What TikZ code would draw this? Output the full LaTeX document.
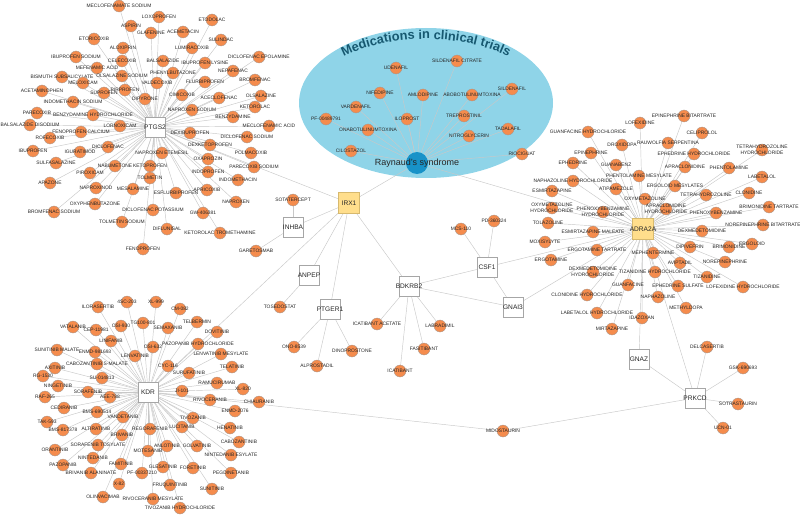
\documentclass[tikz,border=0pt]{standalone}
\usepackage{fontspec}
\setmainfont{Liberation Sans}
\usetikzlibrary{shapes,calc,positioning,decorations.text}
\definecolor{drugorange}{RGB}{245,140,77}
\definecolor{druggray}{RGB}{160,150,145}
\definecolor{hubyellow}{RGB}{255,222,140}
\definecolor{hubborder}{RGB}{215,185,110}
\definecolor{linkgray}{RGB}{200,200,200}
\definecolor{trialblue}{RGB}{143,212,232}
\definecolor{raynblue}{RGB}{24,146,200}
\definecolor{titleteal}{RGB}{22,88,112}
\newcommand{\titlefont}{\fontsize{12.8}{14}\selectfont\bfseries\color{titleteal}}
\pgfdeclarelayer{bg}
\pgfdeclarelayer{links}
\pgfsetlayers{bg,links,main}
\tikzset{lbl/.style={font=\fontsize{4.9}{5.4}\selectfont, text=black!85, align=center, inner sep=0pt}}
\tikzset{drug/.style={circle, draw=druggray, line width=0.3pt, fill=drugorange, minimum size=12pt, inner sep=0pt, label={[lbl]center:#1}}}
\tikzset{tlbl/.style={font=\fontsize{6.6}{7}\selectfont, text=black!85, inner sep=0pt}}
\tikzset{target/.style={rectangle, draw=gray!70, line width=0.4pt, fill=white, minimum size=20pt, inner sep=0pt, label={[tlbl]center:#1}}}
\tikzset{hub/.style={target=#1, fill=hubyellow, draw=hubborder, minimum size=21pt}}
\tikzset{disease/.style={circle, fill=raynblue, minimum size=22pt, inner sep=0pt, label={[font=\fontsize{9}{10}\selectfont, text=black!85]center:#1}}}

\begin{document}
\begin{tikzpicture}[x=1pt, y=-1pt, every edge/.style={draw=linkgray, line width=0.45pt}]
\useasboundingbox (0,0) rectangle (800,516);
\begin{pgfonlayer}{bg}
\fill[trialblue] (426,103) ellipse [x radius=127, y radius=75];
\end{pgfonlayer}
\path[decorate, decoration={text along path, text align=center, text={|\titlefont|Medications in clinical trials}}]
  (318.15,75.95) arc[start angle=205, end angle=335, x radius=119, y radius=64];

\node[disease={Raynaud's syndrome}] (rayn) at (417,163) {};
\node[hub=IRX1] (IRX1) at (349,203) {};
\node[hub=ADRA2A] (ADRA2A) at (643,229) {};
\node[target=PTGS2] (PTGS2) at (155,127) {};
\node[target=KDR] (KDR) at (148,392) {};
\node[target=INHBA] (INHBA) at (293,227) {};
\node[target=ANPEP] (ANPEP) at (309,275) {};
\node[target=PTGER1] (PTGER1) at (330,309) {};
\node[target=BDKRB2] (BDKRB2) at (409,286) {};
\node[target=CSF1] (CSF1) at (487,267) {};
\node[target=GNAI3] (GNAI3) at (513,307) {};
\node[target=GNAZ] (GNAZ) at (639,359) {};
\node[target=PRKCD] (PRKCD) at (695,398) {};

\node[drug=UDENAFIL] (udenafil) at (396,68) {};
\node[drug=NIFEDIPINE] (nifed) at (380,93) {};
\node[drug=VARDENAFIL] (varden) at (356,107) {};
\node[drug=PF-00489791] (pf004) at (326,119) {};
\node[drug=ONABOTULINUMTOXINA] (onabot) at (368,130) {};
\node[drug=CILOSTAZOL] (cilos) at (351,151) {};
\node[drug=ILOPROST] (ilopr) at (407,119) {};
\node[drug=SILDENAFIL CITRATE] (sildcit) at (457,61) {};
\node[drug=AMLODIPINE] (amlod) at (423,95) {};
\node[drug=ABOBOTULINUMTOXINA] (abobot) at (472,95) {};
\node[drug=SILDENAFIL] (sildenafil) at (512,89) {};
\node[drug=TREPROSTINIL] (trepros) at (464,116) {};
\node[drug=TADALAFIL] (tadal) at (508,129) {};
\node[drug=NITROGLYCERIN] (nitro) at (469,136) {};
\node[drug=RIOCIGUAT] (rioci) at (522,154) {};

\node[drug=MECLOFENAMATE SODIUM] (meclosod) at (119,6) {};
\node[drug=LOXOPROFEN] (loxo) at (159,17) {};
\node[drug=ASPIRIN] (aspirin) at (131,26) {};
\node[drug=GLAFENINE] (glaf) at (151,33) {};
\node[drug=ACEMETACIN] (acemet) at (183,32) {};
\node[drug=ETODOLAC] (etodolac) at (212,20) {};
\node[drug=ETORICOXIB] (etori) at (94,39) {};
\node[drug=ALOXIPRIN] (aloxi) at (123,48) {};
\node[drug=LUMIRACOXIB] (lumira) at (192,48) {};
\node[drug=SULINDAC] (sulindac) at (221,40) {};
\node[drug=IBUPROFEN SODIUM] (ibusod) at (76,57) {};
\node[drug=CELECOXIB] (celecox) at (122,61) {};
\node[drug=BALSALAZIDE] (balsal) at (163,61) {};
\node[drug=IBUPROFEN LYSINE] (ibulys) at (205,63) {};
\node[drug=DICLOFENAC EPOLAMINE] (diclepol) at (259,57) {};
\node[drug=MEFENAMIC ACID] (mefen) at (97,68) {};
\node[drug=NEPAFENAC] (nepaf) at (233,71) {};
\node[drug=PHENYLBUTAZONE] (phenylbut) at (173,73) {};
\node[drug=BISMUTH SUBSALICYLATE] (bismuth) at (62,77) {};
\node[drug=OLSALAZINE SODIUM] (olsalsod) at (122,76) {};
\node[drug=BROMFENAC] (bromf) at (255,80) {};
\node[drug=FLURBIPROFEN] (flurbi) at (205,82) {};
\node[drug=MELOXICAM] (melox) at (83,83) {};
\node[drug=VALDECOXIB] (valde) at (157,83) {};
\node[drug=ACETAMINOPHEN] (acetam) at (42,91) {};
\node[drug=SUPROFEN] (suprof) at (104,93) {};
\node[drug=PIRPROFEN] (pirprof) at (125,90) {};
\node[drug=DIPYRONE] (dipyr) at (145,99) {};
\node[drug=CIMICOXIB] (cimic) at (182,95) {};
\node[drug=ACECLOFENAC] (aceclo) at (219,98) {};
\node[drug=OLSALAZINE] (olsal) at (261,96) {};
\node[drug=INDOMETHACIN SODIUM] (indosod) at (73,102) {};
\node[drug=KETOROLAC] (ketorolac) at (255,107) {};
\node[drug=NAPROXEN SODIUM] (napsod) at (192,110) {};
\node[drug=PARECOXIB] (parecox) at (37,113) {};
\node[drug=BENZYDAMINE HYDROCHLORIDE] (benzhcl) at (93,115) {};
\node[drug=BENZYDAMINE] (benzyd) at (233,117) {};
\node[drug=BALSALAZIDE DISODIUM] (balsaldi) at (30,125) {};
\node[drug=LORNOXICAM] (lornox) at (120,126) {};
\node[drug=MECLOFENAMIC ACID] (meclacid) at (269,126) {};
\node[drug=FENOPROFEN CALCIUM] (fenocal) at (81,132) {};
\node[drug=DEXIBUPROFEN] (dexibu) at (190,133) {};
\node[drug=DICLOFENAC SODIUM] (diclsod) at (247,137) {};
\node[drug=ROFECOXIB] (rofecox) at (50,138) {};
\node[drug=DEXKETOPROFEN] (dexketo) at (210,145) {};
\node[drug=DICLOFENAC] (diclof) at (108,147) {};
\node[drug=IBUPROFEN] (ibupro) at (33,151) {};
\node[drug=IGURATIMOD] (igura) at (80,152) {};
\node[drug=NAPROXEN ETEMESIL] (napetem) at (162,153) {};
\node[drug=POLMACOXIB] (polma) at (251,153) {};
\node[drug=OXAPROZIN] (oxapro) at (208,159) {};
\node[drug=SULFASALAZINE] (sulfasal) at (56,163) {};
\node[drug=NABUMETONE] (nabum) at (115,166) {};
\node[drug=KETOPROFEN] (ketopro) at (150,166) {};
\node[drug=PARECOXIB SODIUM] (parecsod) at (254,167) {};
\node[drug=PIROXICAM] (piroxi) at (90,173) {};
\node[drug=INDOPROFEN] (indoprof) at (208,172) {};
\node[drug=TOLMETIN] (tolmetin) at (150,178) {};
\node[drug=INDOMETHACIN] (indomet) at (238,180) {};
\node[drug=APAZONE] (apazone) at (50,183) {};
\node[drug=NAPROXINOD] (naproxinod) at (96,188) {};
\node[drug=MESALAMINE] (mesal) at (133,189) {};
\node[drug=APRICOXIB] (apricox) at (207,190) {};
\node[drug=ESFLURBIPROFEN] (esflurbi) at (176,193) {};
\node[drug=NAPROXEN] (naproxen) at (236,202) {};
\node[drug=OXYPHENBUTAZONE] (oxyphen) at (95,204) {};
\node[drug=DICLOFENAC POTASSIUM] (diclpot) at (153,210) {};
\node[drug=BROMFENAC SODIUM] (bromsod) at (54,212) {};
\node[drug=GW-406381] (gw) at (203,213) {};
\node[drug=TOLMETIN SODIUM] (tolmsod) at (122,222) {};
\node[drug=DIFLUNISAL] (diflun) at (167,229) {};
\node[drug=KETOROLAC TROMETHAMINE] (ketotrom) at (220,233) {};
\node[drug=FENOPROFEN] (fenopro) at (143,249) {};

\node[drug=SOTATERCEPT] (sotat) at (293,200) {};
\node[drug=GARETOSMAB] (garet) at (256,251) {};
\node[drug=TOSEDOSTAT] (tosed) at (280,307) {};
\node[drug=ONO-8539] (ono) at (294,347) {};
\node[drug=DINOPROSTONE] (dinop) at (352,351) {};
\node[drug=ALPROSTADIL] (alpros) at (317,366) {};
\node[drug=ICATIBANT ACETATE] (icatac) at (377,324) {};
\node[drug=LABRADIMIL] (labrad) at (440,326) {};
\node[drug=FASITIBANT] (fasit) at (424,349) {};
\node[drug=ICATIBANT] (icat) at (400,371) {};
\node[drug=MCS-110] (mcs) at (461,229) {};
\node[drug=PD-360324] (pd36) at (494,221) {};
\node[drug=MIDOSTAURIN] (midost) at (503,431) {};
\node[drug=DELCASERTIB] (delcas) at (707,347) {};
\node[drug=GSK-690693] (gsk) at (743,368) {};
\node[drug=SOTRASTAURIN] (sotras) at (738,404) {};
\node[drug=UCN-01] (ucn) at (723,428) {};

\node[drug=ILORASERTIB] (ilora) at (98,307) {};
\node[drug=4SC-203] (sc203) at (127,302) {};
\node[drug=XL-999] (xl999) at (156,302) {};
\node[drug=CM-082] (cm082) at (180,309) {};
\node[drug=TELBERMIN] (telber) at (197,322) {};
\node[drug=VATALANIB] (vatal) at (73,327) {};
\node[drug=CEP-11981] (cep) at (96,330) {};
\node[drug=OSI-930] (osi930) at (121,326) {};
\node[drug=TG100-801] (tg100) at (143,323) {};
\node[drug=SEMAXANIB] (semax) at (168,328) {};
\node[drug=DOVITINIB] (dovit) at (217,332) {};
\node[drug=LINIFANIB] (linif) at (111,341) {};
\node[drug=OSI-632] (osi632) at (153,347) {};
\node[drug=PAZOPANIB HYDROCHLORIDE] (pazohcl) at (198,344) {};
\node[drug=SUNITINIB MALATE] (sunimal) at (57,350) {};
\node[drug=ENMD-981693] (enmd98) at (95,352) {};
\node[drug=LENVATINIB] (lenvat) at (135,356) {};
\node[drug=LENVATINIB MESYLATE] (lenvmes) at (221,354) {};
\node[drug=AXITINIB] (axitinib) at (55,368) {};
\node[drug=CABOZANTINIB S-MALATE] (cabosmal) at (97,364) {};
\node[drug=CYC-116] (cyc) at (168,366) {};
\node[drug=TELATINIB] (telat) at (232,367) {};
\node[drug=RG-1530] (rg1530) at (43,376) {};
\node[drug=SU-014813] (su01) at (102,378) {};
\node[drug=SURUFATINIB] (surufat) at (189,373) {};
\node[drug=RAMUCIRUMAB] (ramuc) at (217,383) {};
\node[drug=NINGETINIB] (ningetinib) at (58,386) {};
\node[drug=SORAFENIB] (sorafenib) at (88,392) {};
\node[drug=JI-101] (ji101) at (182,391) {};
\node[drug=XL-820] (xl820) at (243,389) {};
\node[drug=RAF-265] (raf265) at (45,397) {};
\node[drug=AEE-788] (aee788) at (110,397) {};
\node[drug=RIVOCERANIB] (rivoc) at (210,400) {};
\node[drug=CHIAURANIB] (chiaur) at (259,402) {};
\node[drug=CEDIRANIB] (cedir) at (64,408) {};
\node[drug=BMS-690514] (bms690) at (97,412) {};
\node[drug=ENMD-2076] (enmd20) at (235,411) {};
\node[drug=VANDETANIB] (vandet) at (123,417) {};
\node[drug=TIVOZANIB] (tivoz) at (193,418) {};
\node[drug=TAK-593] (tak593) at (47,422) {};
\node[drug=LUCITANIB] (lucit) at (182,427) {};
\node[drug=HENATINIB] (henat) at (230,428) {};
\node[drug=BMS-817378] (bms817) at (63,430) {};
\node[drug=ALTIRATINIB] (altir) at (96,429) {};
\node[drug=REGORAFENIB] (regoraf) at (150,429) {};
\node[drug=BRIVANIB] (brivanib) at (122,435) {};
\node[drug=CABOZANTINIB] (cabozan) at (239,442) {};
\node[drug=SORAFENIB TOSYLATE] (soratos) at (98,445) {};
\node[drug=ANLOTINIB] (anlot) at (167,446) {};
\node[drug=GOLVATINIB] (golvat) at (197,446) {};
\node[drug=ORANTINIB] (orantinib) at (55,450) {};
\node[drug=MOTESANIB] (motesanib) at (148,451) {};
\node[drug=NINTEDANIB ESYLATE] (nintesy) at (231,455) {};
\node[drug=NINTEDANIB] (nintedanib) at (93,458) {};
\node[drug=FAMITINIB] (famitinib) at (121,464) {};
\node[drug=PAZOPANIB] (pazopanib) at (63,465) {};
\node[drug=GLESATINIB] (glesat) at (163,467) {};
\node[drug=FORETINIB] (foretinib) at (193,468) {};
\node[drug=BRIVANIB ALANINATE] (brivala) at (91,473) {};
\node[drug=PF-00337210] (pf003) at (142,473) {};
\node[drug=PEGDINETANIB] (pegdin) at (231,473) {};
\node[drug=X-82] (x82) at (119,484) {};
\node[drug=FRUQUINTINIB] (fruq) at (170,485) {};
\node[drug=SUNITINIB] (sunitinib) at (212,489) {};
\node[drug=OLINVACIMAB] (olinv) at (103,497) {};
\node[drug=RIVOCERANIB MESYLATE] (rivomes) at (153,499) {};
\node[drug=TIVOZANIB HYDROCHLORIDE] (tivohcl) at (180,508) {};

\node[drug=GUANFACINE HYDROCHLORIDE] (guanfhcl) at (588,132) {};
\node[drug=EPINEPHRINE] (epinephrine) at (591,153) {};
\node[drug=EPHEDRINE] (ephedrine) at (573,163) {};
\node[drug=EPINEPHRINE BITARTRATE] (epibit) at (684,116) {};
\node[drug=LOFEXIDINE] (lofex) at (640,123) {};
\node[drug=CELIPROLOL] (celip) at (702,133) {};
\node[drug=DROXIDOPA] (droxi) at (622,145) {};
\node[drug=RAUWOLFIA SERPENTINA] (rauw) at (668,143) {};
\node[drug=EPHEDRINE HYDROCHLORIDE] (ephhcl) at (694,154) {};
\node[drug={TETRAHYDROZOLINE\\HYDROCHLORIDE}] (tetrahcl) at (762,150) {};
\node[drug=GUANABENZ] (guanab) at (616,165) {};
\node[drug=APRACLONIDINE] (apracl) at (685,167) {};
\node[drug=PHENTOLAMINE] (phentol) at (729,168) {};
\node[drug=LABETALOL] (labet) at (762,177) {};
\node[drug=PHENTOLAMINE MESYLATE] (phentmes) at (639,176) {};
\node[drug=NAPHAZOLINE HYDROCHLORIDE] (naphhcl) at (573,181) {};
\node[drug=ERGOLOID MESYLATES] (ergmes) at (675,186) {};
\node[drug=ATIPAMEZOLE] (atipam) at (616,189) {};
\node[drug=ESMIRTAZAPINE] (esmirt) at (552,191) {};
\node[drug=CLONIDINE] (clonid) at (749,193) {};
\node[drug=TETRAHYDROZOLINE] (tetrahy) at (706,195) {};
\node[drug=OXYMETAZOLINE] (oxymet) at (645,199) {};
\node[drug=BRIMONIDINE TARTRATE] (brimtar) at (769,207) {};
\node[drug={OXYMETAZOLINE\\HYDROCHLORIDE}] (oxyhcl) at (552,208) {};
\node[drug={APRACLONIDINE\\HYDROCHLORIDE}] (apraclhcl) at (666,209) {};
\node[drug={PHENOXYBENZAMINE\\HYDROCHLORIDE}] (phenoxhcl) at (603,212) {};
\node[drug=PHENOXYBENZAMINE] (phenox) at (716,213) {};
\node[drug=TOLAZOLINE] (tolaz) at (548,223) {};
\node[drug=NOREPINEPHRINE BITARTRATE] (norbit) at (763,225) {};
\node[drug=DEXMEDETOMIDINE] (dexmed) at (702,231) {};
\node[drug=ESMIRTAZAPINE MALEATE] (esmmal) at (593,232) {};
\node[drug=MOXISYLYTE] (moxis) at (545,242) {};
\node[drug=ERGOLOID] (ergoloid) at (752,244) {};
\node[drug=DIPIVEFRIN] (dipiv) at (690,247) {};
\node[drug=BRIMONIDINE] (brimon) at (729,247) {};
\node[drug=ERGOTAMINE TARTRATE] (ergtart) at (597,250) {};
\node[drug=MEPHENTERMINE] (mephen) at (653,253) {};
\node[drug=ERGOTAMINE] (ergot) at (551,260) {};
\node[drug=AVIPTADIL] (avipt) at (680,263) {};
\node[drug=NOREPINEPHRINE] (norepi) at (725,262) {};
\node[drug={DEXMEDETOMIDINE\\HYDROCHLORIDE}] (dexhcl) at (593,272) {};
\node[drug=TIZANIDINE HYDROCHLORIDE] (tizhcl) at (655,272) {};
\node[drug=TIZANIDINE] (tizan) at (707,277) {};
\node[drug=GUANFACINE] (guanf) at (628,285) {};
\node[drug=EPHEDRINE SULFATE] (ephsulf) at (678,286) {};
\node[drug=LOFEXIDINE HYDROCHLORIDE] (lofexhcl) at (743,287) {};
\node[drug=CLONIDINE HYDROCHLORIDE] (clonhcl) at (587,295) {};
\node[drug=NAPHAZOLINE] (naphaz) at (658,297) {};
\node[drug=METHYLDOPA] (methyl) at (686,308) {};
\node[drug=LABETALOL HYDROCHLORIDE] (labhcl) at (597,313) {};
\node[drug=IDAZOXAN] (idazox) at (642,318) {};
\node[drug=MIRTAZAPINE] (mirtaz) at (612,329) {};

\begin{pgfonlayer}{links}
\path (rayn) edge (udenafil) edge (nifed) edge (varden) edge (pf004) edge (onabot) edge (cilos) edge (ilopr) edge (sildcit)
  edge (amlod) edge (abobot) edge (sildenafil) edge (trepros) edge (tadal) edge (nitro) edge (rioci)
  edge (IRX1) edge (ADRA2A);
\path (IRX1) edge (PTGS2) edge (INHBA) edge (ANPEP) edge (PTGER1) edge (BDKRB2) edge (KDR);
\path (INHBA) edge (sotat) edge (garet)
  (ANPEP) edge (tosed)
  (PTGER1) edge (ono) edge (dinop) edge (alpros)
  (BDKRB2) edge (icatac) edge (labrad) edge (fasit) edge (icat) edge (CSF1) edge (GNAI3)
  (CSF1) edge (mcs) edge (pd36) edge (GNAI3) edge (ADRA2A)
  (GNAI3) edge (ADRA2A)
  (ADRA2A) edge (GNAZ) edge (PRKCD)
  (GNAZ) edge (PRKCD)
  (KDR) edge (midost)
  (midost) edge (PRKCD)
  (PRKCD) edge (delcas) edge (gsk) edge (sotras) edge (ucn);
\path (PTGS2) edge (meclosod) edge (loxo) edge (aspirin) edge (glaf) edge (acemet) edge (etodolac) edge (etori)
  edge (aloxi) edge (lumira) edge (sulindac) edge (ibusod) edge (celecox) edge (balsal) edge (ibulys) edge (diclepol)
  edge (mefen) edge (nepaf) edge (phenylbut) edge (bismuth) edge (olsalsod) edge (bromf) edge (flurbi) edge (melox)
  edge (valde) edge (acetam) edge (suprof) edge (pirprof) edge (dipyr) edge (cimic) edge (aceclo) edge (olsal)
  edge (indosod) edge (ketorolac) edge (napsod) edge (parecox) edge (benzhcl) edge (benzyd) edge (balsaldi)
  edge (lornox) edge (meclacid) edge (fenocal) edge (dexibu) edge (diclsod) edge (rofecox) edge (dexketo)
  edge (diclof) edge (ibupro) edge (igura) edge (napetem) edge (polma) edge (oxapro) edge (sulfasal) edge (nabum)
  edge (ketopro) edge (parecsod) edge (piroxi) edge (indoprof) edge (tolmetin) edge (indomet) edge (apazone)
  edge (naproxinod) edge (mesal) edge (apricox) edge (esflurbi) edge (naproxen) edge (oxyphen) edge (diclpot)
  edge (bromsod) edge (gw) edge (tolmsod) edge (diflun) edge (ketotrom) edge (fenopro);
\path (KDR) edge (ilora) edge (sc203) edge (xl999) edge (cm082) edge (telber) edge (vatal) edge (cep) edge (osi930)
  edge (tg100) edge (semax) edge (dovit) edge (linif) edge (osi632) edge (pazohcl) edge (sunimal) edge (enmd98)
  edge (lenvat) edge (lenvmes) edge (axitinib) edge (cabosmal) edge (cyc) edge (telat) edge (rg1530) edge (su01)
  edge (surufat) edge (ramuc) edge (ningetinib) edge (sorafenib) edge (ji101) edge (xl820) edge (raf265)
  edge (aee788) edge (rivoc) edge (chiaur) edge (cedir) edge (bms690) edge (enmd20) edge (vandet) edge (tivoz)
  edge (tak593) edge (lucit) edge (henat) edge (bms817) edge (altir) edge (regoraf) edge (brivanib) edge (cabozan)
  edge (soratos) edge (anlot) edge (golvat) edge (orantinib) edge (motesanib) edge (nintesy) edge (nintedanib)
  edge (famitinib) edge (pazopanib) edge (glesat) edge (foretinib) edge (brivala) edge (pf003) edge (pegdin)
  edge (x82) edge (fruq) edge (sunitinib) edge (olinv) edge (rivomes) edge (tivohcl);
\path (ADRA2A) edge (guanfhcl) edge (epinephrine) edge (ephedrine) edge (epibit) edge (lofex) edge (celip)
  edge (droxi) edge (rauw) edge (ephhcl) edge (tetrahcl) edge (guanab) edge (apracl) edge (phentol) edge (labet)
  edge (phentmes) edge (naphhcl) edge (ergmes) edge (atipam) edge (esmirt) edge (clonid) edge (tetrahy)
  edge (oxymet) edge (brimtar) edge (oxyhcl) edge (apraclhcl) edge (phenoxhcl) edge (phenox) edge (tolaz)
  edge (norbit) edge (dexmed) edge (esmmal) edge (moxis) edge (ergoloid) edge (dipiv) edge (brimon) edge (ergtart)
  edge (mephen) edge (ergot) edge (avipt) edge (norepi) edge (dexhcl) edge (tizhcl) edge (tizan) edge (guanf)
  edge (ephsulf) edge (lofexhcl) edge (clonhcl) edge (naphaz) edge (methyl) edge (labhcl) edge (idazox)
  edge (mirtaz);
\end{pgfonlayer}
\end{tikzpicture}
\end{document}
